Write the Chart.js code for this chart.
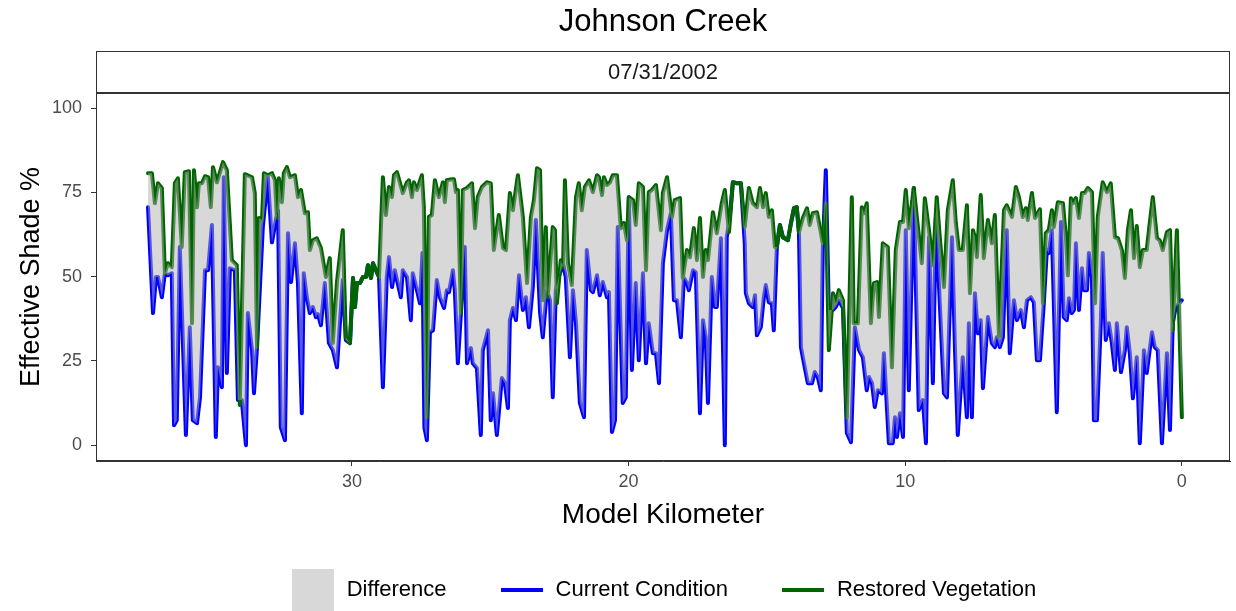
<!DOCTYPE html>
<html>
<head>
<meta charset="utf-8">
<title>Johnson Creek</title>
<script src="https://cdn.jsdelivr.net/npm/chart.js@4.4.0/dist/chart.umd.min.js"></script>
<style>
  html, body { margin: 0; padding: 0; background: #ffffff; }
  canvas { display: block; }
</style>
</head>
<body>
<canvas id="chart" width="1236" height="611"></canvas>
<script>
const chartTitle = "Johnson Creek";
const stripLabel = "07/31/2002";
const xTicks = [30, 20, 10, 0];
const yTicks = [0, 25, 50, 75, 100];
const legendLabels = ["Difference", "Current Condition", "Restored Vegetation"];

// restored vegetation, effective shade % by model km
const restoredKm = [37.37, 37.23, 37.12, 37.01, 36.87, 36.76, 36.65, 36.51, 36.40, 36.29, 36.15, 36.04, 35.89, 35.78, 35.71, 35.60, 35.53, 35.42, 35.31, 35.20,
  35.10, 35.02, 34.88, 34.66, 34.52, 34.34, 34.16, 34.05, 33.87, 33.61, 33.51, 33.43, 33.36, 33.25, 33.18, 33.04, 32.89, 32.78, 32.71, 32.64,
  32.53, 32.46, 32.35, 32.24, 32.06, 31.95, 31.84, 31.70, 31.59, 31.52, 31.41, 31.27, 31.12, 30.94, 30.80, 30.69, 30.54, 30.33, 30.22, 30.07,
  29.96, 29.89, 29.82, 29.71, 29.60, 29.49, 29.42, 29.31, 29.24, 29.13, 29.02, 28.88, 28.77, 28.66, 28.55, 28.48, 28.37, 28.27, 28.16, 28.01,
  27.94, 27.83, 27.76, 27.65, 27.47, 27.40, 27.29, 27.22, 27.11, 27.00, 26.86, 26.71, 26.64, 26.57, 26.39, 26.31, 26.24, 26.17, 26.06, 25.99,
  25.84, 25.66, 25.55, 25.45, 25.30, 25.12, 24.98, 24.87, 24.69, 24.54, 24.43, 24.29, 24.18, 24.00, 23.82, 23.67, 23.53, 23.42, 23.31, 23.20,
  23.10, 22.99, 22.92, 22.74, 22.66, 22.59, 22.45, 22.37, 22.30, 22.19, 22.05, 21.90, 21.80, 21.69, 21.58, 21.43, 21.29, 21.14, 21.07, 20.96,
  20.89, 20.78, 20.67, 20.57, 20.42, 20.28, 20.17, 20.06, 19.99, 19.84, 19.74, 19.63, 19.48, 19.37, 19.27, 19.16, 19.01, 18.83, 18.76, 18.61,
  18.43, 18.33, 18.14, 18.04, 17.89, 17.78, 17.64, 17.53, 17.42, 17.31, 17.21, 17.13, 16.95, 16.81, 16.63, 16.52, 16.37, 16.23, 16.08, 15.94,
  15.80, 15.65, 15.51, 15.36, 15.25, 15.14, 15.04, 14.93, 14.82, 14.71, 14.64, 14.53, 14.42, 14.24, 14.13, 14.02, 13.92, 13.84, 13.70, 13.55,
  13.45, 13.34, 13.19, 13.08, 12.98, 12.87, 12.76, 12.61, 12.51, 12.40, 12.25, 12.11, 11.93, 11.86, 11.71, 11.57, 11.49, 11.39, 11.24, 11.13,
  11.02, 10.95, 10.81, 10.63, 10.48, 10.34, 10.19, 10.08, 9.98, 9.87, 9.69, 9.58, 9.40, 9.29, 9.14, 9.00, 8.86, 8.75, 8.60, 8.46,
  8.28, 8.17, 8.06, 7.92, 7.77, 7.66, 7.55, 7.48, 7.41, 7.27, 7.16, 7.01, 6.87, 6.76, 6.61, 6.43, 6.33, 6.14, 6.00, 5.89,
  5.75, 5.64, 5.57, 5.42, 5.31, 5.13, 5.02, 4.92, 4.81, 4.70, 4.63, 4.48, 4.30, 4.19, 4.12, 4.01, 3.94, 3.83, 3.72, 3.61,
  3.51, 3.40, 3.25, 3.14, 3.04, 2.86, 2.71, 2.57, 2.42, 2.31, 2.17, 2.06, 1.95, 1.84, 1.73, 1.63, 1.52, 1.41, 1.27, 1.16,
  1.05, 0.90, 0.80, 0.69, 0.54, 0.43, 0.33, 0.18, 0.00];
const restoredShade = [80.7, 80.7, 71.8, 77.7, 76.3, 51.0, 54.0, 52.8, 77.7, 79.2, 58.8, 81.0, 81.3, 36.2, 81.6, 70.6, 77.7, 77.7, 79.8, 79.5,
  70.6, 82.5, 78.0, 84.0, 81.6, 54.9, 53.4, 11.9, 80.4, 79.5, 74.8, 29.1, 67.4, 66.8, 80.7, 80.1, 80.7, 78.6, 67.4, 79.2,
  72.1, 80.7, 82.5, 79.5, 80.1, 73.6, 75.7, 68.8, 69.1, 57.9, 60.8, 61.4, 58.5, 49.9, 55.5, 30.3, 48.4, 63.8, 32.0, 30.3,
  49.6, 41.0, 48.1, 48.1, 49.9, 49.9, 53.4, 49.6, 54.0, 51.9, 49.9, 79.5, 68.3, 76.6, 73.6, 80.1, 81.0, 78.0, 74.8, 78.0,
  78.6, 73.6, 78.0, 75.7, 80.1, 70.6, 8.3, 67.7, 68.3, 78.6, 73.6, 78.0, 72.1, 78.6, 78.9, 78.9, 75.1, 75.7, 39.2, 75.7,
  76.3, 77.7, 64.4, 73.6, 76.6, 78.0, 77.7, 57.9, 68.3, 58.5, 57.9, 74.8, 69.7, 80.1, 67.7, 48.1, 67.7, 72.7, 82.2, 81.6,
  43.0, 64.7, 43.9, 64.7, 63.8, 42.1, 54.9, 52.8, 78.6, 54.0, 47.5, 73.6, 77.7, 69.7, 76.6, 78.6, 75.1, 80.1, 79.5, 74.2,
  79.5, 77.2, 78.0, 80.1, 80.1, 64.4, 65.9, 60.8, 73.6, 72.7, 65.3, 77.7, 76.6, 51.9, 75.1, 75.7, 77.2, 63.8, 74.8, 79.5,
  67.7, 72.7, 73.3, 49.6, 57.9, 55.8, 64.4, 54.9, 67.4, 49.9, 57.9, 54.9, 69.1, 62.9, 71.8, 75.7, 63.2, 78.0, 77.7, 77.7,
  64.7, 76.3, 71.8, 70.6, 76.3, 70.6, 74.8, 67.7, 69.7, 58.8, 58.8, 65.3, 61.7, 60.8, 65.9, 70.3, 70.6, 63.2, 67.4, 70.3,
  65.3, 68.8, 69.1, 64.4, 59.9, 71.8, 28.2, 45.1, 42.1, 46.0, 43.0, 8.3, 73.6, 36.2, 36.2, 70.6, 68.8, 71.8, 36.2, 48.1,
  48.4, 38.0, 59.9, 58.8, 23.1, 57.9, 66.2, 66.2, 75.7, 64.4, 76.3, 67.7, 54.0, 73.3, 63.8, 53.4, 73.6, 61.7, 46.9, 69.7,
  78.6, 65.9, 57.9, 57.9, 71.2, 45.1, 63.8, 61.7, 55.8, 74.2, 55.5, 66.8, 59.9, 68.3, 32.0, 69.7, 71.2, 67.7, 76.6, 73.6,
  67.7, 70.3, 66.8, 74.8, 67.4, 70.0, 42.1, 62.9, 63.8, 69.7, 64.7, 72.1, 71.8, 61.7, 50.4, 73.3, 71.8, 73.3, 67.4, 74.8,
  74.8, 76.3, 75.1, 42.1, 67.7, 78.0, 75.1, 77.7, 61.7, 61.4, 57.9, 49.6, 63.8, 69.7, 55.5, 65.0, 52.8, 57.9, 57.9, 65.9,
  73.6, 61.4, 60.8, 57.9, 63.2, 63.8, 34.1, 63.8, 8.3];

// current condition, effective shade % by model km
const currentKm = [37.37, 37.19, 37.08, 37.01, 36.87, 36.76, 36.65, 36.51, 36.43, 36.33, 36.22, 36.00, 35.86, 35.75, 35.60, 35.49, 35.31, 35.20, 35.06, 34.92,
  34.84, 34.70, 34.63, 34.52, 34.41, 34.23, 34.12, 33.98, 33.83, 33.76, 33.61, 33.54, 33.43, 33.22, 33.04, 32.89, 32.75, 32.67, 32.57, 32.42,
  32.31, 32.20, 32.06, 31.95, 31.81, 31.74, 31.63, 31.52, 31.41, 31.30, 31.23, 31.12, 30.98, 30.83, 30.69, 30.54, 30.33, 30.22, 30.07, 29.96,
  29.89, 29.82, 29.71, 29.60, 29.49, 29.42, 29.31, 29.24, 29.13, 29.02, 28.88, 28.74, 28.66, 28.55, 28.45, 28.37, 28.23, 28.16, 28.01, 27.87,
  27.80, 27.65, 27.54, 27.45, 27.38, 27.29, 27.18, 27.07, 26.93, 26.82, 26.67, 26.57, 26.49, 26.35, 26.28, 26.17, 26.06, 25.92, 25.84, 25.70,
  25.63, 25.48, 25.34, 25.27, 25.08, 24.98, 24.90, 24.76, 24.58, 24.47, 24.36, 24.29, 24.18, 24.07, 23.96, 23.82, 23.71, 23.60, 23.46, 23.35,
  23.20, 23.10, 22.95, 22.84, 22.74, 22.63, 22.52, 22.37, 22.27, 22.12, 22.01, 21.90, 21.76, 21.61, 21.51, 21.36, 21.29, 21.14, 21.04, 20.93,
  20.78, 20.71, 20.60, 20.49, 20.39, 20.21, 20.10, 19.99, 19.88, 19.74, 19.63, 19.48, 19.37, 19.27, 19.12, 19.01, 18.90, 18.76, 18.61, 18.47,
  18.36, 18.25, 18.11, 18.00, 17.89, 17.82, 17.67, 17.57, 17.42, 17.31, 17.21, 17.13, 16.99, 16.88, 16.81, 16.66, 16.52, 16.45, 16.34, 16.23,
  16.08, 15.94, 15.80, 15.76, 15.65, 15.51, 15.43, 15.36, 15.22, 15.11, 15.04, 14.93, 14.82, 14.75, 14.64, 14.53, 14.42, 14.24, 14.13, 14.02,
  13.92, 13.84, 13.77, 13.66, 13.52, 13.37, 13.27, 13.16, 13.05, 12.98, 12.87, 12.76, 12.61, 12.51, 12.40, 12.25, 12.11, 11.96, 11.82, 11.67,
  11.53, 11.39, 11.31, 11.20, 11.10, 10.99, 10.84, 10.77, 10.59, 10.45, 10.37, 10.30, 10.19, 10.08, 9.98, 9.87, 9.69, 9.61, 9.51, 9.36,
  9.25, 9.14, 9.00, 8.89, 8.75, 8.60, 8.49, 8.31, 8.20, 8.10, 7.92, 7.77, 7.70, 7.59, 7.48, 7.37, 7.27, 7.19, 7.01, 6.87,
  6.76, 6.69, 6.58, 6.47, 6.33, 6.22, 6.07, 5.96, 5.82, 5.71, 5.60, 5.46, 5.35, 5.24, 5.13, 4.99, 4.88, 4.81, 4.70, 4.52,
  4.37, 4.27, 4.16, 4.08, 3.98, 3.90, 3.83, 3.72, 3.61, 3.54, 3.43, 3.36, 3.25, 3.18, 3.07, 2.93, 2.86, 2.75, 2.64, 2.53,
  2.42, 2.35, 2.20, 2.06, 1.99, 1.88, 1.77, 1.63, 1.52, 1.37, 1.27, 1.08, 0.98, 0.87, 0.72, 0.54, 0.43, 0.33, 0.22, 0.00];
const currentShade = [70.6, 39.2, 49.9, 49.9, 43.9, 51.0, 50.4, 51.0, 5.9, 7.4, 58.8, 3.0, 35.0, 7.4, 6.5, 14.2, 51.9, 51.9, 65.3, 2.4,
  23.1, 17.2, 79.5, 21.4, 52.5, 51.9, 13.4, 13.4, 0.0, 39.2, 28.2, 15.4, 29.1, 64.7, 79.5, 60.2, 66.8, 69.7, 5.3, 1.5,
  62.9, 48.4, 59.9, 48.1, 9.5, 51.0, 43.9, 39.2, 41.0, 38.0, 38.9, 35.6, 48.1, 30.3, 28.2, 23.1, 49.0, 31.2, 30.3, 49.6,
  41.0, 48.1, 48.1, 49.9, 49.9, 53.4, 49.6, 54.0, 51.9, 49.9, 17.2, 49.9, 55.8, 46.9, 51.9, 49.0, 43.9, 51.9, 49.9, 37.1,
  51.0, 46.0, 42.1, 57.0, 5.3, 1.5, 33.5, 34.1, 49.0, 43.9, 40.7, 46.0, 45.4, 51.9, 46.0, 24.3, 39.2, 58.8, 24.3, 28.8,
  24.3, 22.8, 3.0, 28.2, 34.1, 7.4, 15.4, 3.0, 19.9, 18.4, 11.0, 37.1, 40.7, 37.1, 50.4, 40.1, 43.9, 35.0, 46.9, 66.8,
  39.5, 32.0, 46.0, 43.0, 14.2, 46.0, 49.9, 54.0, 49.9, 26.1, 46.0, 36.2, 12.5, 8.3, 57.9, 46.0, 45.4, 50.4, 44.5, 48.4,
  43.9, 45.4, 3.9, 7.4, 64.7, 12.5, 14.2, 73.6, 22.3, 48.1, 25.2, 51.0, 24.3, 36.2, 27.3, 27.3, 18.4, 54.0, 63.8, 68.8,
  43.0, 43.0, 32.0, 49.6, 48.1, 46.0, 51.9, 51.3, 9.5, 37.1, 32.0, 12.5, 49.9, 41.0, 41.0, 61.4, 0.0, 61.7, 67.7, 78.0,
  77.7, 77.7, 59.9, 45.1, 42.1, 41.0, 44.5, 32.6, 35.0, 43.9, 47.5, 42.4, 42.1, 34.1, 58.8, 65.3, 61.7, 60.8, 65.9, 70.3,
  70.6, 62.9, 29.1, 24.3, 18.4, 18.4, 21.7, 20.2, 16.3, 57.9, 81.6, 40.1, 40.1, 41.0, 43.0, 40.7, 3.6, 0.9, 35.0, 28.2,
  26.1, 16.3, 20.2, 18.4, 11.3, 16.3, 15.4, 27.3, 0.6, 0.6, 8.3, 2.4, 9.5, 2.4, 63.8, 16.3, 76.3, 46.0, 10.4, 13.4,
  0.6, 61.7, 18.4, 67.7, 42.1, 15.4, 14.2, 61.7, 28.2, 3.0, 26.1, 8.3, 36.2, 8.3, 45.1, 33.2, 37.1, 16.9, 38.0, 30.3,
  29.1, 32.0, 29.1, 32.0, 63.8, 27.3, 43.0, 37.1, 40.1, 35.0, 43.0, 43.9, 42.4, 25.2, 25.2, 42.1, 57.9, 57.0, 63.8, 9.8,
  66.2, 38.0, 37.1, 43.6, 39.2, 40.1, 59.9, 40.1, 52.5, 46.0, 46.0, 57.0, 49.9, 7.4, 7.4, 36.2, 57.0, 31.2, 36.2, 30.3,
  22.3, 36.2, 21.7, 28.2, 35.0, 27.3, 13.9, 26.1, 0.6, 28.2, 21.4, 33.5, 29.1, 28.2, 0.6, 27.3, 4.5, 36.2, 41.0, 43.0];

const fontFamily = "'Liberation Sans', Arial, Helvetica, sans-serif";
const blue = "#0000FF";
const green = "#006400";
const ribbon = "rgba(178, 178, 178, 0.5)";
const frame = "#333333";

Chart.defaults.font.family = fontFamily;

const toPoints = (km, vals) => km.map((k, i) => ({ x: k, y: vals[i] }));

const makeKey = (draw) => {
  let c = document.createElement("canvas");
  c.width = 42;
  c.height = 42;
  draw(c.getContext("2d"));
  return c;
};
const lineKey = (color) => makeKey(ctx => {
  ctx.strokeStyle = color;
  ctx.lineWidth = 4;
  ctx.beginPath();
  ctx.moveTo(0, 21);
  ctx.lineTo(42, 21);
  ctx.stroke();
});
const legendKeys = [
  makeKey(ctx => { ctx.fillStyle = ribbon; ctx.fillRect(0, 0, 42, 42); }),
  lineKey(blue),
  lineKey(green)
];

// facet strip and panel frame, like the ggplot theme
const stripPlugin = {
  id: "strip",
  afterDraw(chart) {
    const { ctx, chartArea } = chart;
    const { left, right, top, bottom } = chartArea;
    ctx.save();
    ctx.strokeStyle = frame;
    ctx.lineWidth = 1;
    ctx.strokeRect(left + 0.5, top - 42 + 0.5, right - left - 1, 42);
    ctx.strokeRect(left + 0.5, top + 0.5, right - left - 1, bottom - top - 1);
    ctx.lineWidth = 2;
    ctx.beginPath();
    ctx.moveTo(left, top);
    ctx.lineTo(right, top);
    ctx.stroke();
    ctx.fillStyle = "#1A1A1A";
    ctx.font = "22px " + fontFamily;
    ctx.textAlign = "center";
    ctx.textBaseline = "middle";
    ctx.fillText(stripLabel, (left + right) / 2, top - 20);
    ctx.restore();
  }
};

new Chart(document.getElementById("chart"), {
  type: "line",
  data: {
    datasets: [
      {
        label: legendLabels[1],
        data: toPoints(currentKm, currentShade),
        borderColor: blue,
        borderWidth: 4,
        fill: false,
        order: 2
      },
      {
        label: legendLabels[2],
        data: toPoints(restoredKm, restoredShade),
        borderColor: green,
        borderWidth: 4,
        fill: false,
        order: 1
      },
      {
        label: legendLabels[0],
        data: toPoints(restoredKm, restoredShade),
        borderColor: "rgba(0,0,0,0)",
        borderWidth: 0,
        backgroundColor: ribbon,
        fill: { target: 0 },
        order: 0
      }
    ]
  },
  options: {
    responsive: false,
    maintainAspectRatio: false,
    devicePixelRatio: 1,
    animation: false,
    layout: { padding: { left: 0, right: 6, top: 0, bottom: 0 } },
    elements: {
      point: { radius: 0, hoverRadius: 0 },
      line: { tension: 0, borderJoinStyle: "round", borderCapStyle: "round" }
    },
    scales: {
      x: {
        type: "linear",
        reverse: true,
        min: -1.74,
        max: 39.25,
        afterBuildTicks: s => { s.ticks = xTicks.map(v => ({ value: v })); },
        afterFit: s => { s.height = 66; },
        ticks: { color: "#4D4D4D", font: { size: 18 }, padding: 5, maxRotation: 0, autoSkip: false },
        grid: { drawOnChartArea: false, drawTicks: true, tickLength: 5, tickColor: frame, tickWidth: 1 },
        border: { display: true, color: frame, width: 1 },
        title: { display: true, text: "Model Kilometer", color: "#000000", font: { size: 28 }, padding: { top: 0, bottom: -5 } }
      },
      y: {
        min: -4.7,
        max: 104.5,
        afterBuildTicks: s => { s.ticks = yTicks.map(v => ({ value: v })); },
        afterFit: s => { s.width = 96; },
        ticks: { color: "#4D4D4D", font: { size: 18 }, padding: 9 },
        grid: { drawOnChartArea: false, drawTicks: true, tickLength: 5, tickColor: frame, tickWidth: 1 },
        border: { display: true, color: frame, width: 1 },
        title: { display: true, text: "Effective Shade %", color: "#000000", font: { size: 27 }, padding: { top: 15, bottom: 0 } }
      }
    },
    plugins: {
      title: {
        display: true,
        text: chartTitle,
        fullSize: false,
        color: "#000000",
        font: { size: 31, weight: "normal" },
        padding: { top: 3.5, bottom: 52.3 }
      },
      legend: {
        position: "bottom",
        fullSize: false,
        labels: {
          usePointStyle: true,
          pointStyleWidth: 46,
          color: "#000000",
          font: { size: 22 },
          padding: 52,
          generateLabels: () => legendLabels.map((text, i) => ({
            text: text,
            pointStyle: legendKeys[i],
            fillStyle: "rgba(0,0,0,0)",
            strokeStyle: "rgba(0,0,0,0)",
            lineWidth: 0,
            hidden: false,
            datasetIndex: [2, 0, 1][i]
          }))
        }
      },
      tooltip: { enabled: false },
      filler: { propagate: false }
    }
  },
  plugins: [stripPlugin]
});
</script>
</body>
</html>
